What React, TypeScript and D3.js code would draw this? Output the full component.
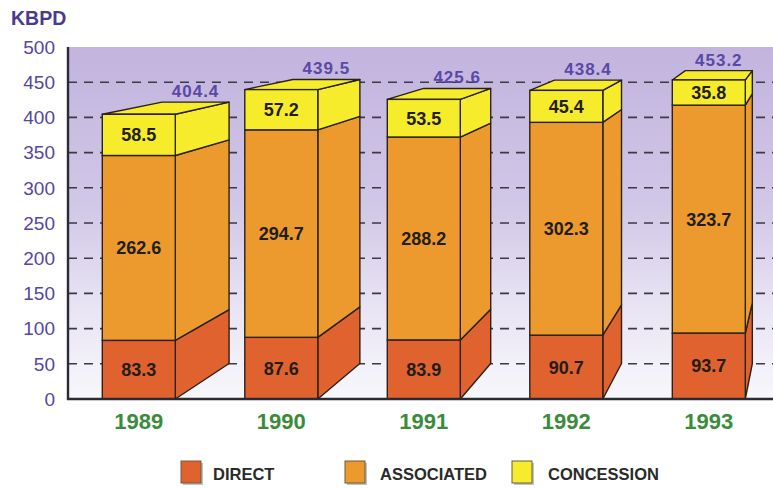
import React from "react";
import * as d3 from "d3";

// Production by contract type, thousand barrels per day
const years = ["1989", "1990", "1991", "1992", "1993"];
const direct = [83.3, 87.6, 83.9, 90.7, 93.7];
const associated = [262.6, 294.7, 288.2, 302.3, 323.7];
const concession = [58.5, 57.2, 53.5, 45.4, 35.8];
const totals = [404.4, 439.5, 425.6, 438.4, 453.2];
const yTicks = [0, 50, 100, 150, 200, 250, 300, 350, 400, 450, 500];
const seriesNames = ["DIRECT", "ASSOCIATED", "CONCESSION"];

const W = 773;
const H = 488;
const colors = ["#e0622f", "#ec9a2e", "#f6ec2c"];
const edge = "#2a2118";

// Perspective: every bar recedes toward one vanishing point on the right
const VP = { x: 831, y: -34 };
const depth = 0.918;
const back = (x: number, y: number): [number, number] => [
  VP.x + depth * (x - VP.x),
  VP.y + depth * (y - VP.y),
];

const poly = (pts: [number, number][]) => pts.map((p) => p.join(",")).join(" ");

export default function App() {
  const plot = { left: 68, right: 773, top: 47, bottom: 399 };

  const x = d3
    .scaleBand<string>()
    .domain(years)
    .range([plot.left, 779.6])
    .paddingInner(0.4877)
    .paddingOuter(0.2407);

  const y = d3.scaleLinear().domain([0, 500]).range([plot.bottom, plot.top]);

  const rows = years.map((yr, i) => ({
    year: yr,
    DIRECT: direct[i],
    ASSOCIATED: associated[i],
    CONCESSION: concession[i],
  }));
  const stacked = d3.stack<any>().keys(seriesNames)(rows);

  const bw = x.bandwidth();

  return (
    <svg
      width={W}
      height={H}
      style={{ position: "absolute", left: 0, top: 0, background: "#fff" }}
      fontFamily="'Liberation Sans', Arial, sans-serif"
    >
      <defs>
        <linearGradient id="bg" x1="0" y1="0" x2="0" y2="1">
          <stop offset="0%" stopColor="#c2b4de" />
          <stop offset="45%" stopColor="#d1c7e7" />
          <stop offset="75%" stopColor="#e9e5f4" />
          <stop offset="100%" stopColor="#f8f7fc" />
        </linearGradient>
      </defs>

      <rect
        x={plot.left}
        y={plot.top}
        width={plot.right - plot.left}
        height={plot.bottom - plot.top}
        fill="url(#bg)"
      />

      {/* dashed gridlines */}
      {yTicks
        .filter((t) => t > 0 && t < 500)
        .map((t) => (
          <line
            key={t}
            x1={plot.left}
            x2={plot.right}
            y1={y(t)}
            y2={y(t)}
            stroke="#3a3a44"
            strokeWidth={1.6}
            strokeDasharray="9 7"
          />
        ))}

      {/* y tick labels */}
      {yTicks.map((t) => (
        <text
          key={t}
          x={55}
          y={y(t)}
          dy="0.36em"
          textAnchor="end"
          fontSize={19}
          fill="#5546a0"
        >
          {t}
        </text>
      ))}
      <text x={11} y={25} fontSize={19.5} fontWeight="bold" fill="#4a3b8e">
        KBPD
      </text>

      {/* bars */}
      {years.map((yr, i) => {
        const xl = x(yr)!;
        const xr = xl + bw;
        const yTop = y(totals[i]);
        const tl = back(xl, yTop);
        const tr = back(xr, yTop);
        return (
          <g key={yr}>
            {stacked.map((s, k) => {
              const [v0, v1] = s[i];
              const a = y(v0);
              const b = y(v1);
              return (
                <polygon
                  key={"side" + k}
                  points={poly([[xr, a], [xr, b], back(xr, b), back(xr, a)])}
                  fill={colors[k]}
                  stroke={edge}
                  strokeWidth={1.4}
                  strokeLinejoin="round"
                />
              );
            })}
            <polygon
              points={poly([[xl, yTop], [xr, yTop], tr, tl])}
              fill={colors[2]}
              stroke={edge}
              strokeWidth={1.4}
              strokeLinejoin="round"
            />
            {stacked.map((s, k) => {
              const [v0, v1] = s[i];
              return (
                <rect
                  key={"front" + k}
                  x={xl}
                  y={y(v1)}
                  width={bw}
                  height={y(v0) - y(v1)}
                  fill={colors[k]}
                  stroke={edge}
                  strokeWidth={1.4}
                />
              );
            })}
            {stacked.map((s, k) => {
              const [v0, v1] = s[i];
              return (
                <text
                  key={"lab" + k}
                  x={xl + bw / 2}
                  y={(y(v0) + y(v1)) / 2}
                  dy="0.36em"
                  textAnchor="middle"
                  fontSize={18}
                  fontWeight="bold"
                  fill="#231d18"
                >
                  {(s[i].data as any)[seriesNames[k]].toFixed(1)}
                </text>
              );
            })}
            <text
              x={(tl[0] + tr[0]) / 2}
              y={tl[1] - 5}
              textAnchor="middle"
              fontSize={17}
              fontWeight="bold"
              letterSpacing={1}
              fill="#5a48a6"
            >
              {totals[i].toFixed(1)}
            </text>
            <text
              x={xl + bw / 2}
              y={429}
              textAnchor="middle"
              fontSize={22}
              fontWeight="bold"
              fill="#3b8c3a"
            >
              {yr}
            </text>
          </g>
        );
      })}

      {/* axes */}
      <line x1={plot.left} x2={plot.left} y1={plot.top} y2={plot.bottom + 1} stroke="#2b2b33" strokeWidth={2.4} />
      <line x1={plot.left - 1} x2={plot.right} y1={plot.bottom} y2={plot.bottom} stroke="#2b2b33" strokeWidth={2.4} />

      {/* legend */}
      {seriesNames.map((name, k) => {
        const sx = [181, 345, 512][k];
        const tx = [213, 380, 548][k];
        return (
          <g key={name}>
            <rect x={sx + 2} y={463} width={20} height={22} fill="#9a9a9a" opacity={0.6} />
            <rect x={sx} y={461} width={20} height={22} fill={colors[k]} stroke="#6b5a40" strokeWidth={1} />
            <text x={tx} y={474} dy="0.36em" fontSize={16.5} fontWeight="bold" fill="#2a2a2a">
              {name}
            </text>
          </g>
        );
      })}
    </svg>
  );
}
